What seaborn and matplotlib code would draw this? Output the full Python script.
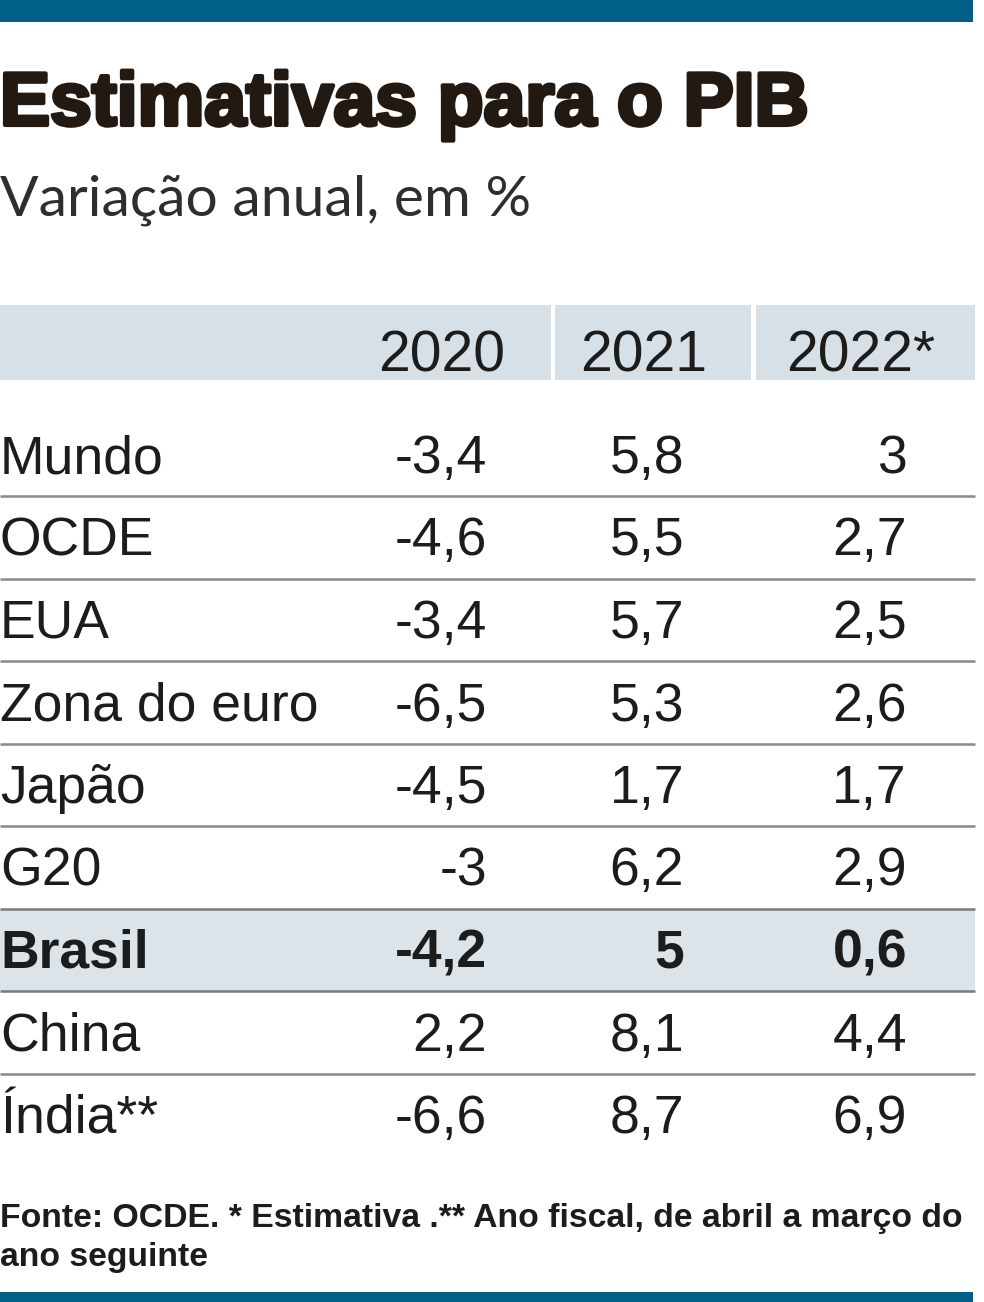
import matplotlib
matplotlib.use("Agg")
import matplotlib.pyplot as plt
import matplotlib.patheffects as pe
import seaborn as sns
import pandas as pd

# table content
countries = ['Mundo', 'OCDE', 'EUA', 'Zona do euro', 'Japão', 'G20', 'Brasil', 'China', 'Índia**']
years = ['2020', '2021', '2022*']
gdp_2020 = [-3.4, -4.6, -3.4, -6.5, -4.5, -3, -4.2, 2.2, -6.6]
gdp_2021 = [5.8, 5.5, 5.7, 5.3, 1.7, 6.2, 5, 8.1, 8.7]
gdp_2022 = [3, 2.7, 2.5, 2.6, 1.7, 2.9, 0.6, 4.4, 6.9]
highlight = 'Brasil'

title = 'Estimativas para o PIB'
subtitle = 'Variação anual, em %'
source_1 = 'Fonte: OCDE. * Estimativa .** Ano fiscal, de abril a março do'
source_2 = 'ano seguinte'

df = pd.DataFrame({'2020': gdp_2020, '2021': gdp_2021, '2022*': gdp_2022}, index=countries)

sns.set_theme(style='white')
REG = ['Liberation Sans', 'DejaVu Sans']
BLUE = '#005f87'
BAND = '#d7e0e7'
INK = '#1c1c1c'

fig = plt.figure(figsize=(9.84, 13.02), dpi=100)
ax = fig.add_axes([0, 0, 1, 1])
ax.set_xlim(0, 984)
ax.set_ylim(1302, 0)
ax.axis('off')

# top and bottom bars
ax.add_patch(plt.Rectangle((0, 0), 973, 22, color=BLUE, lw=0))
ax.add_patch(plt.Rectangle((0, 1292), 973, 10, color=BLUE, lw=0))

# title block
ax.text(0, 125, title, family=REG, weight='bold', fontsize=54, color='#211912',
        path_effects=[pe.withStroke(linewidth=3, foreground='#211912')])
ax.text(0, 215, subtitle, family=['Lato', 'DejaVu Sans'], fontsize=41, color='#2e2e2e')

# header band with column cells
col_cells = [(0, 551), (555, 751), (756, 975)]
for x0, x1 in col_cells:
    ax.add_patch(plt.Rectangle((x0, 305), x1 - x0, 75, color=BAND, lw=0))
head_right = [505, 707, 935]
num_right = [487, 684, 907]
for yr, xr in zip(years, head_right):
    ax.text(xr, 372, yr, family=REG, fontsize=41, color=INK, ha='right', va='baseline')

# body rows
row_y0 = 455
row_h = 82.5
for i, name in enumerate(df.index):
    yc = row_y0 + i * row_h
    bold = name == highlight
    if bold:
        ax.add_patch(plt.Rectangle((0, yc - row_h / 2), 975, row_h, color='#dce4ea', lw=0))
    w = 'bold' if bold else 'normal'
    ax.text(0, yc + 18, name, family=REG, fontsize=38.5, weight=w, color=INK, va='baseline')
    for col, xr in zip(df.columns, num_right):
        v = df.loc[name, col]
        s = ('%g' % v).replace('.', ',')
        ax.text(xr, yc + 18, s, family=REG, fontsize=38.5, weight=w, color=INK,
                ha='right', va='baseline')
    if i < len(df.index) - 1:
        lc = '#7a7a7a' if highlight in (name, df.index[i + 1]) else '#8a8a8a'
        ax.plot([0, 975], [yc + row_h / 2] * 2, color=lc, lw=1.8, solid_capstyle='butt')

# source note
ax.text(0, 1227, source_1, family=REG, weight='bold', fontsize=24.3, color=INK)
ax.text(0, 1266, source_2, family=REG, weight='bold', fontsize=24.3, color=INK)

fig.savefig('out.png', dpi=100)
